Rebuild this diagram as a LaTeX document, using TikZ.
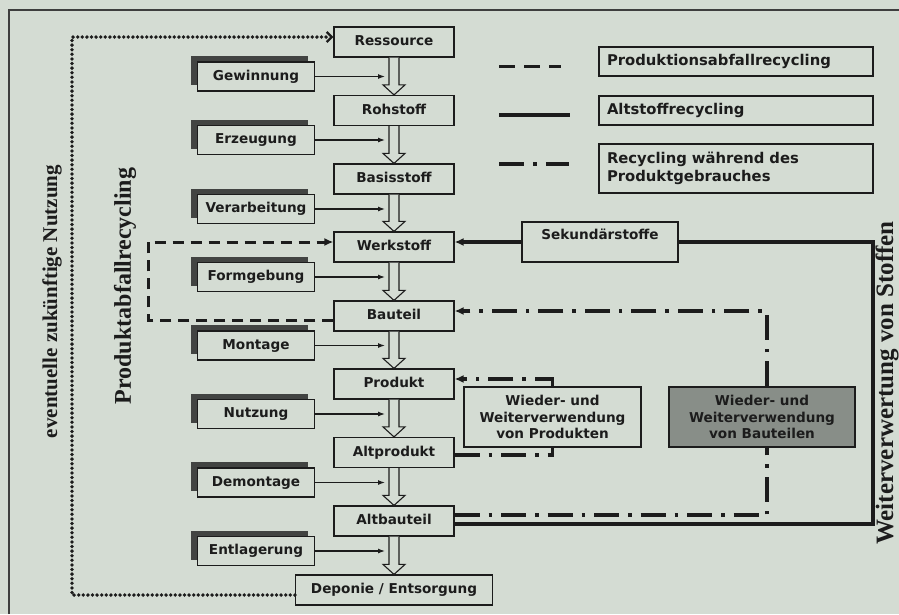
\documentclass[tikz,border=0pt]{standalone}
\usepackage{fontspec}
\usepackage{tikz}
\usetikzlibrary{positioning}
\usetikzlibrary{calc}
\usetikzlibrary{arrows.meta}
\usetikzlibrary{shadows}

\newfontfamily\kastenfont{DejaVu Sans}
\newfontfamily\titelfont{Liberation Serif}

\definecolor{grund}{RGB}{212,220,211}
\definecolor{schatten}{RGB}{66,68,66}
\definecolor{dunkel}{RGB}{136,142,136}
\definecolor{linie}{RGB}{28,28,28}

\begin{document}
\begin{tikzpicture}[x=1pt, y=-1pt,
  every node/.style={draw=linie, line width=1.2pt, fill=grund, inner sep=0pt, text=linie,
    font=\kastenfont\bfseries\fontsize{13.6}{16.5}\selectfont},
  zeile/.style={text height=10pt, text depth=3pt},
  stufe/.style={zeile, minimum width=120pt, minimum height=30pt},
  prozess/.style={zeile, minimum width=117pt, minimum height=29pt,
    drop shadow={shadow xshift=-7pt, shadow yshift=6pt, fill=schatten, opacity=1}},
  legende/.style={minimum width=274pt, minimum height=29pt, text width=258pt, align=left,
    font=\kastenfont\bfseries\fontsize{14.8}{18.5}\selectfont},
  wieder/.style={minimum width=177pt, minimum height=60pt, align=center},
  titel/.style={draw=none, fill=none, rotate=90},
  hohl/.style={draw=linie, line width=1.1pt, fill=grund,
    to path={($(\tikztostart.south)+(-5,0)$) -- ($(\tikztotarget.north)+(-5,-10)$)
      -- ($(\tikztotarget.north)+(-11,-10)$) -- (\tikztotarget.north)
      -- ($(\tikztotarget.north)+(11,-10)$) -- ($(\tikztotarget.north)+(5,-10)$)
      -- ($(\tikztostart.south)+(5,0)$)}},
  pfeil/.style={draw=linie, line width=1.2pt, -{Latex[length=7pt,width=5pt]}, shorten >=9pt},
  spitze/.style={-{Latex[length=9pt,width=8pt]}},
  altstoff/.style={draw=linie, line width=3.2pt},
  abfall/.style={draw=linie, line width=3pt, dash pattern=on 11pt off 7pt},
  gebrauch/.style={draw=linie, line width=3.4pt, dash pattern=on 25pt off 9pt on 3.5pt off 9pt},
  zukunft/.style={draw=linie, line width=3.8pt, line cap=round, dash pattern=on 0pt off 4.6pt}
]
  \useasboundingbox (0,0) rectangle (899,614);
  \fill[grund] (0,0) rectangle (899,614);
  \draw[linie!85, line width=1.4pt] (9,614) -- (9,10) -- (899,10);

  % Stufen
  \node[stufe] (res) at (394,42) {Ressource};
  \node[stufe] (roh) at (394,110.5) {Rohstoff};
  \node[stufe] (bas) at (394,179) {Basisstoff};
  \node[stufe] (werk) at (394,247) {Werkstoff};
  \node[stufe] (bau) at (394,316) {Bauteil};
  \node[stufe] (prod) at (394,384) {Produkt};
  \node[stufe] (altprod) at (394,452.5) {Altprodukt};
  \node[stufe] (altbau) at (394,521) {Altbauteil};
  \node[stufe, minimum width=197pt] (dep) at (394,590) {Deponie / Entsorgung};

  % Prozesse
  \node[prozess] (gew) at (256,76.5) {Gewinnung};
  \node[prozess] (erz) at (256,140) {Erzeugung};
  \node[prozess] (ver) at (256,209) {Verarbeitung};
  \node[prozess] (form) at (256,277) {Formgebung};
  \node[prozess] (mont) at (256,345.5) {Montage};
  \node[prozess] (nutz) at (256,414) {Nutzung};
  \node[prozess] (demo) at (256,482.5) {Demontage};
  \node[prozess] (entl) at (256,551) {Entlagerung};

  % Legende
  \node[legende] (lg1) at (736,61.5) {Produktionsabfallrecycling};
  \node[legende] (lg2) at (736,110.5) {Altstoffrecycling};
  \node[legende, minimum height=49pt] (lg3) at (736,168.5) {Recycling während des\\Produktgebrauches};

  % Rueckfuehrung
  \node[stufe, minimum width=156pt, minimum height=40pt, text height=17.5pt, text depth=22.5pt] (sek) at (600,242) {Sekundärstoffe};
  \node[wieder] (wprod) at (552.5,417) {Wieder- und\\Weiterverwendung\\von Produkten};
  \node[wieder, fill=dunkel, minimum width=186pt] (wbau) at (762,417) {Wieder- und\\Weiterverwendung\\von Bauteilen};
  \coordinate (ecke) at (873,242);
  \coordinate (abf) at (148,280);
  \coordinate (zuk) at (72,300);

  % Beschriftung
  \node[titel, font=\titelfont\bfseries\fontsize{21}{24}\selectfont] (nutzung) at (52,301.5) {eventuelle zukünftige Nutzung};
  \node[titel, font=\titelfont\bfseries\fontsize{24}{28}\selectfont] (pabf) at (125,286) {Produktabfallrecycling};
  \node[titel, anchor=north, font=\titelfont\bfseries\fontsize{25}{28}\selectfont] (stoffe) at (875,383) {Weiterverwertung von Stoffen};

  % Hohlpfeile
  \draw[hohl] (res) to (roh);
  \draw[hohl] (roh) to (bas);
  \draw[hohl] (bas) to (werk);
  \draw[hohl] (werk) to (bau);
  \draw[hohl] (bau) to (prod);
  \draw[hohl] (prod) to (altprod);
  \draw[hohl] (altprod) to (altbau);
  \draw[hohl] (altbau) to (dep);

  % Prozesspfeile
  \draw[pfeil] (gew) -- (gew -| res);
  \draw[pfeil] (erz) -- (erz -| res);
  \draw[pfeil] (ver) -- (ver -| res);
  \draw[pfeil] (form) -- (form -| res);
  \draw[pfeil] (mont) -- (mont -| res);
  \draw[pfeil] (nutz) -- (nutz -| res);
  \draw[pfeil] (demo) -- (demo -| res);
  \draw[pfeil] (entl) -- (entl -| res);

  % Recyclingwege
  \draw[altstoff] ([yshift=-3pt]altbau.east) -| (ecke) -- (sek.east);
  \draw[altstoff, spitze] (sek.west) -- (sek.west -| werk.east);
  \draw[abfall, spitze] ([yshift=-4pt]bau.west) -| (abf) |- ([yshift=5pt]werk.west);
  \draw[gebrauch] ([yshift=-2.5pt]altprod.east) -| (wprod.south);
  \draw[gebrauch, spitze] (wprod.north) |- ([yshift=5pt]prod.east);
  \draw[gebrauch] ([yshift=6pt]altbau.east) -| ([xshift=5pt]wbau.south);
  \draw[gebrauch, spitze] ([xshift=5pt]wbau.north) |- ([yshift=5pt]bau.east);
  \draw[zukunft, -{Straight Barb[length=5pt,width=10pt,line width=2.4pt]}] ([yshift=-5pt]dep.west) -| (zuk) |- ([yshift=5pt]res.west);

  % Legendenlinien
  \draw[abfall, dash pattern=on 16pt off 9pt] ($(lg1.west)+(-99,4.5)$) -- ($(lg1.west)+(-37,4.5)$);
  \draw[altstoff] ($(lg2.west)+(-99,4.5)$) -- ($(lg2.west)+(-28,4.5)$);
  \draw[gebrauch] ($(lg3.west)+(-99,-4.5)$) -- ($(lg3.west)+(-29,-4.5)$);
\end{tikzpicture}
\end{document}
